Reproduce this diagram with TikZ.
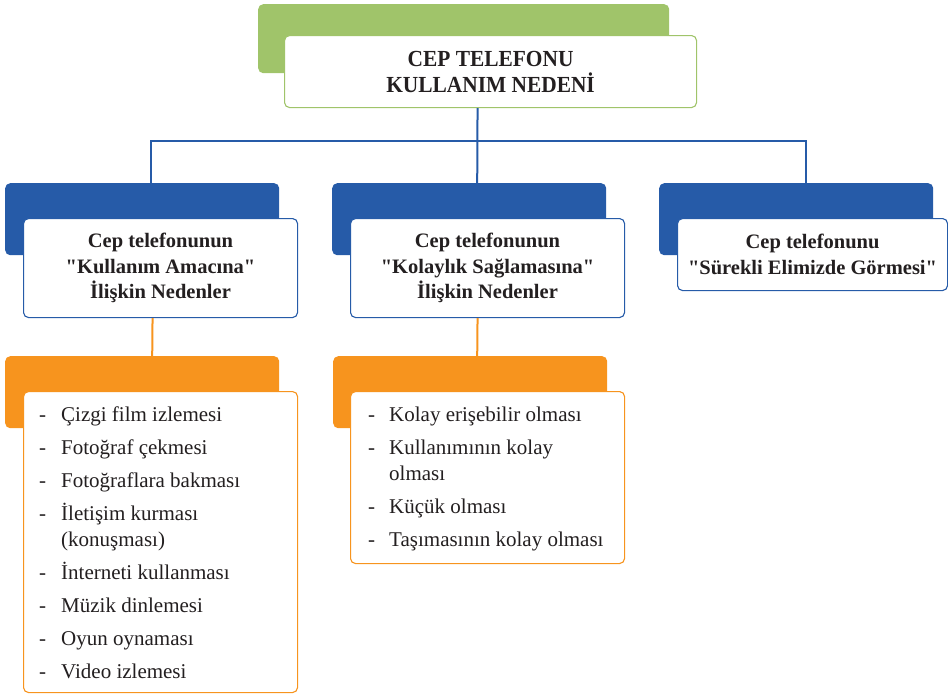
\documentclass[tikz,border=0pt]{standalone}
\usepackage{fontspec}
\setmainfont{Liberation Serif}[BoldFont={Liberation Serif Bold}]
\newfontfamily\condbold{Liberation Serif Bold}[FakeStretch=0.93]
\newfontfamily\subbold{Liberation Serif Bold}
\definecolor{grn}{RGB}{160,196,106}
\definecolor{blu}{RGB}{38,91,168}
\definecolor{org}{RGB}{247,148,30}
\definecolor{txt}{RGB}{35,31,32}
\begin{document}
\begin{tikzpicture}[x=1pt,y=-1pt,
  back/.style={anchor=north west, inner sep=0pt, rounded corners=5pt, minimum width=274pt, minimum height=72pt},
  front/.style={anchor=north west, inner sep=0pt, rounded corners=5pt, fill=white, line width=1.1pt,
    minimum width=274pt, text=txt, align=center, font=\subbold\fontsize{20.5}{25.5}\selectfont},
  listtxt/.style={anchor=base west, inner sep=0pt, text=txt, font=\rmfamily\fontsize{21}{26}\selectfont},
  bconn/.style={draw=blu, line width=2pt},
  oconn/.style={draw=org, line width=2pt}]
\useasboundingbox (0,0) rectangle (948,694);
% top
\node[back, fill=grn, minimum width=411pt, minimum height=69pt] (tb) at (258,4) {};
\node[front, draw=grn, minimum width=412pt, minimum height=72pt,
  font=\condbold\fontsize{23}{26}\selectfont] (tw) at (284,35) {CEP TELEFONU\\KULLANIM NEDENİ};
% blue level
\node[back, fill=blu] (b1) at (5,183) {};
\node[back, fill=blu] (b2) at (332,183) {};
\node[back, fill=blu] (b3) at (659,183) {};
% connectors
\draw[bconn] ([xshift=-13pt]tw.south) -- ([xshift=8pt]b2.north);
\draw[bconn] ([xshift=9pt]b1.north) |- ([xshift=-13pt,yshift=-33pt]tw.south) -| ([xshift=10pt]b3.north);
\node[front, draw=blu, minimum height=99pt] (w1) at (23,218) {Cep telefonunun\\"Kullanım Amacına"\\İlişkin Nedenler};
\node[front, draw=blu, minimum height=99pt] (w2) at (350,218) {Cep telefonunun\\"Kolaylık Sağlamasına"\\İlişkin Nedenler};
\node[front, draw=blu, minimum width=270pt, minimum height=72pt] (w3) at (677,218) {Cep telefonunu\\"Sürekli Elimizde Görmesi"};
% orange level
\node[back, fill=org] (o1) at (5,356) {};
\node[back, fill=org] (o2) at (333,356) {};
\draw[oconn] ([xshift=-8pt]w1.south) -- ([xshift=10pt]o1.north);
\draw[oconn] ([xshift=-10pt]w2.south) -- ([xshift=7pt]o2.north);
\node[front, draw=org, minimum height=301pt] (v1) at (23,391) {};
\node[front, draw=org, minimum height=172pt] (v2) at (350,391) {};
% lists
\node[listtxt] (l1) at (39,421.5) {\begin{tabular}[t]{@{}p{22pt}@{}l@{}}
- & Çizgi film izlemesi\\[7pt]
- & Fotoğraf çekmesi\\[7pt]
- & Fotoğraflara bakması\\[7pt]
- & İletişim kurması\\
  & (konuşması)\\[7pt]
- & İnterneti kullanması\\[7pt]
- & Müzik dinlemesi\\[7pt]
- & Oyun oynaması\\[7pt]
- & Video izlemesi
\end{tabular}};
\node[listtxt] (l2) at (368,421.5) {\begin{tabular}[t]{@{}p{21pt}@{}l@{}}
- & Kolay erişebilir olması\\[7pt]
- & Kullanımının kolay\\
  & olması\\[7pt]
- & Küçük olması\\[7pt]
- & Taşımasının kolay olması
\end{tabular}};
\end{tikzpicture}
\end{document}
